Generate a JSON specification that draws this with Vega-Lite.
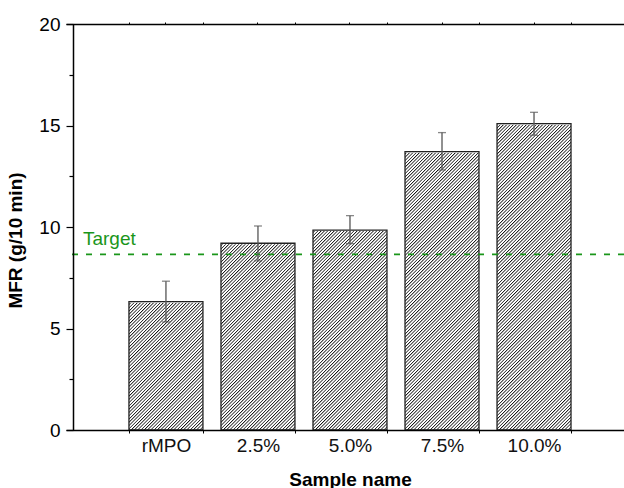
{
"$schema":"https://vega.github.io/schema/vega-lite/v6.json",
"width":558,"height":406,
"autosize":{"type":"none"},
"padding":{"left":66,"top":24,"right":0,"bottom":58},
"background":"white",
"config":{"view":{"stroke":null},"font":"Liberation Sans","axis":{"labelFont":"Liberation Sans","titleFont":"Liberation Sans","labelColor":"#000","titleColor":"#000","tickColor":"#000","domainColor":"#000","grid":false}},
"data":{"values":[
{"sample":"rMPO","mfr":6.32,"lo":5.32,"hi":7.33},
{"sample":"2.5%","mfr":9.20,"lo":8.33,"hi":10.05},
{"sample":"5.0%","mfr":9.85,"lo":9.18,"hi":10.56},
{"sample":"7.5%","mfr":13.71,"lo":12.81,"hi":14.65},
{"sample":"10.0%","mfr":15.09,"lo":14.52,"hi":15.65}
]},
"resolve":{"axis":{"x":"independent","y":"independent"}},
"layer":[
{"mark":{"type":"bar","stroke":null,"fill":{"gradient":"linear","x1":0,"y1":0,"x2":0.2572,"y2":1.164,"stops":[
{"offset":0,"color":"#111"},{"offset":0.0032,"color":"#fff"},{"offset":0.006,"color":"#fff"},
{"offset":0.008,"color":"#111"},{"offset":0.0112,"color":"#fff"},{"offset":0.014,"color":"#fff"},
{"offset":0.016,"color":"#111"},{"offset":0.0192,"color":"#fff"},{"offset":0.022,"color":"#fff"},
{"offset":0.024,"color":"#111"},{"offset":0.0272,"color":"#fff"},{"offset":0.03,"color":"#fff"},
{"offset":0.032,"color":"#111"},{"offset":0.0352,"color":"#fff"},{"offset":0.038,"color":"#fff"},
{"offset":0.04,"color":"#111"},{"offset":0.0432,"color":"#fff"},{"offset":0.046,"color":"#fff"},
{"offset":0.048,"color":"#111"},{"offset":0.0512,"color":"#fff"},{"offset":0.054,"color":"#fff"},
{"offset":0.056,"color":"#111"},{"offset":0.0592,"color":"#fff"},{"offset":0.062,"color":"#fff"},
{"offset":0.064,"color":"#111"},{"offset":0.0672,"color":"#fff"},{"offset":0.07,"color":"#fff"},
{"offset":0.072,"color":"#111"},{"offset":0.0752,"color":"#fff"},{"offset":0.078,"color":"#fff"},
{"offset":0.08,"color":"#111"},{"offset":0.0832,"color":"#fff"},{"offset":0.086,"color":"#fff"},
{"offset":0.088,"color":"#111"},{"offset":0.0912,"color":"#fff"},{"offset":0.094,"color":"#fff"},
{"offset":0.096,"color":"#111"},{"offset":0.0992,"color":"#fff"},{"offset":0.102,"color":"#fff"},
{"offset":0.104,"color":"#111"},{"offset":0.1072,"color":"#fff"},{"offset":0.11,"color":"#fff"},
{"offset":0.112,"color":"#111"},{"offset":0.1152,"color":"#fff"},{"offset":0.118,"color":"#fff"},
{"offset":0.12,"color":"#111"},{"offset":0.1232,"color":"#fff"},{"offset":0.126,"color":"#fff"},
{"offset":0.128,"color":"#111"},{"offset":0.1312,"color":"#fff"},{"offset":0.134,"color":"#fff"},
{"offset":0.136,"color":"#111"},{"offset":0.1392,"color":"#fff"},{"offset":0.142,"color":"#fff"},
{"offset":0.144,"color":"#111"},{"offset":0.1472,"color":"#fff"},{"offset":0.15,"color":"#fff"},
{"offset":0.152,"color":"#111"},{"offset":0.1552,"color":"#fff"},{"offset":0.158,"color":"#fff"},
{"offset":0.16,"color":"#111"},{"offset":0.1632,"color":"#fff"},{"offset":0.166,"color":"#fff"},
{"offset":0.168,"color":"#111"},{"offset":0.1712,"color":"#fff"},{"offset":0.174,"color":"#fff"},
{"offset":0.176,"color":"#111"},{"offset":0.1792,"color":"#fff"},{"offset":0.182,"color":"#fff"},
{"offset":0.184,"color":"#111"},{"offset":0.1872,"color":"#fff"},{"offset":0.19,"color":"#fff"},
{"offset":0.192,"color":"#111"},{"offset":0.1952,"color":"#fff"},{"offset":0.198,"color":"#fff"},
{"offset":0.2,"color":"#111"},{"offset":0.2032,"color":"#fff"},{"offset":0.206,"color":"#fff"},
{"offset":0.208,"color":"#111"},{"offset":0.2112,"color":"#fff"},{"offset":0.214,"color":"#fff"},
{"offset":0.216,"color":"#111"},{"offset":0.2192,"color":"#fff"},{"offset":0.222,"color":"#fff"},
{"offset":0.224,"color":"#111"},{"offset":0.2272,"color":"#fff"},{"offset":0.23,"color":"#fff"},
{"offset":0.232,"color":"#111"},{"offset":0.2352,"color":"#fff"},{"offset":0.238,"color":"#fff"},
{"offset":0.24,"color":"#111"},{"offset":0.2432,"color":"#fff"},{"offset":0.246,"color":"#fff"},
{"offset":0.248,"color":"#111"},{"offset":0.2512,"color":"#fff"},{"offset":0.254,"color":"#fff"},
{"offset":0.256,"color":"#111"},{"offset":0.2592,"color":"#fff"},{"offset":0.262,"color":"#fff"},
{"offset":0.264,"color":"#111"},{"offset":0.2672,"color":"#fff"},{"offset":0.27,"color":"#fff"},
{"offset":0.272,"color":"#111"},{"offset":0.2752,"color":"#fff"},{"offset":0.278,"color":"#fff"},
{"offset":0.28,"color":"#111"},{"offset":0.2832,"color":"#fff"},{"offset":0.286,"color":"#fff"},
{"offset":0.288,"color":"#111"},{"offset":0.2912,"color":"#fff"},{"offset":0.294,"color":"#fff"},
{"offset":0.296,"color":"#111"},{"offset":0.2992,"color":"#fff"},{"offset":0.302,"color":"#fff"},
{"offset":0.304,"color":"#111"},{"offset":0.3072,"color":"#fff"},{"offset":0.31,"color":"#fff"},
{"offset":0.312,"color":"#111"},{"offset":0.3152,"color":"#fff"},{"offset":0.318,"color":"#fff"},
{"offset":0.32,"color":"#111"},{"offset":0.3232,"color":"#fff"},{"offset":0.326,"color":"#fff"},
{"offset":0.328,"color":"#111"},{"offset":0.3312,"color":"#fff"},{"offset":0.334,"color":"#fff"},
{"offset":0.336,"color":"#111"},{"offset":0.3392,"color":"#fff"},{"offset":0.342,"color":"#fff"},
{"offset":0.344,"color":"#111"},{"offset":0.3472,"color":"#fff"},{"offset":0.35,"color":"#fff"},
{"offset":0.352,"color":"#111"},{"offset":0.3552,"color":"#fff"},{"offset":0.358,"color":"#fff"},
{"offset":0.36,"color":"#111"},{"offset":0.3632,"color":"#fff"},{"offset":0.366,"color":"#fff"},
{"offset":0.368,"color":"#111"},{"offset":0.3712,"color":"#fff"},{"offset":0.374,"color":"#fff"},
{"offset":0.376,"color":"#111"},{"offset":0.3792,"color":"#fff"},{"offset":0.382,"color":"#fff"},
{"offset":0.384,"color":"#111"},{"offset":0.3872,"color":"#fff"},{"offset":0.39,"color":"#fff"},
{"offset":0.392,"color":"#111"},{"offset":0.3952,"color":"#fff"},{"offset":0.398,"color":"#fff"},
{"offset":0.4,"color":"#111"},{"offset":0.4032,"color":"#fff"},{"offset":0.406,"color":"#fff"},
{"offset":0.408,"color":"#111"},{"offset":0.4112,"color":"#fff"},{"offset":0.414,"color":"#fff"},
{"offset":0.416,"color":"#111"},{"offset":0.4192,"color":"#fff"},{"offset":0.422,"color":"#fff"},
{"offset":0.424,"color":"#111"},{"offset":0.4272,"color":"#fff"},{"offset":0.43,"color":"#fff"},
{"offset":0.432,"color":"#111"},{"offset":0.4352,"color":"#fff"},{"offset":0.438,"color":"#fff"},
{"offset":0.44,"color":"#111"},{"offset":0.4432,"color":"#fff"},{"offset":0.446,"color":"#fff"},
{"offset":0.448,"color":"#111"},{"offset":0.4512,"color":"#fff"},{"offset":0.454,"color":"#fff"},
{"offset":0.456,"color":"#111"},{"offset":0.4592,"color":"#fff"},{"offset":0.462,"color":"#fff"},
{"offset":0.464,"color":"#111"},{"offset":0.4672,"color":"#fff"},{"offset":0.47,"color":"#fff"},
{"offset":0.472,"color":"#111"},{"offset":0.4752,"color":"#fff"},{"offset":0.478,"color":"#fff"},
{"offset":0.48,"color":"#111"},{"offset":0.4832,"color":"#fff"},{"offset":0.486,"color":"#fff"},
{"offset":0.488,"color":"#111"},{"offset":0.4912,"color":"#fff"},{"offset":0.494,"color":"#fff"},
{"offset":0.496,"color":"#111"},{"offset":0.4992,"color":"#fff"},{"offset":0.502,"color":"#fff"},
{"offset":0.504,"color":"#111"},{"offset":0.5072,"color":"#fff"},{"offset":0.51,"color":"#fff"},
{"offset":0.512,"color":"#111"},{"offset":0.5152,"color":"#fff"},{"offset":0.518,"color":"#fff"},
{"offset":0.52,"color":"#111"},{"offset":0.5232,"color":"#fff"},{"offset":0.526,"color":"#fff"},
{"offset":0.528,"color":"#111"},{"offset":0.5312,"color":"#fff"},{"offset":0.534,"color":"#fff"},
{"offset":0.536,"color":"#111"},{"offset":0.5392,"color":"#fff"},{"offset":0.542,"color":"#fff"},
{"offset":0.544,"color":"#111"},{"offset":0.5472,"color":"#fff"},{"offset":0.55,"color":"#fff"},
{"offset":0.552,"color":"#111"},{"offset":0.5552,"color":"#fff"},{"offset":0.558,"color":"#fff"},
{"offset":0.56,"color":"#111"},{"offset":0.5632,"color":"#fff"},{"offset":0.566,"color":"#fff"},
{"offset":0.568,"color":"#111"},{"offset":0.5712,"color":"#fff"},{"offset":0.574,"color":"#fff"},
{"offset":0.576,"color":"#111"},{"offset":0.5792,"color":"#fff"},{"offset":0.582,"color":"#fff"},
{"offset":0.584,"color":"#111"},{"offset":0.5872,"color":"#fff"},{"offset":0.59,"color":"#fff"},
{"offset":0.592,"color":"#111"},{"offset":0.5952,"color":"#fff"},{"offset":0.598,"color":"#fff"},
{"offset":0.6,"color":"#111"},{"offset":0.6032,"color":"#fff"},{"offset":0.606,"color":"#fff"},
{"offset":0.608,"color":"#111"},{"offset":0.6112,"color":"#fff"},{"offset":0.614,"color":"#fff"},
{"offset":0.616,"color":"#111"},{"offset":0.6192,"color":"#fff"},{"offset":0.622,"color":"#fff"},
{"offset":0.624,"color":"#111"},{"offset":0.6272,"color":"#fff"},{"offset":0.63,"color":"#fff"},
{"offset":0.632,"color":"#111"},{"offset":0.6352,"color":"#fff"},{"offset":0.638,"color":"#fff"},
{"offset":0.64,"color":"#111"},{"offset":0.6432,"color":"#fff"},{"offset":0.646,"color":"#fff"},
{"offset":0.648,"color":"#111"},{"offset":0.6512,"color":"#fff"},{"offset":0.654,"color":"#fff"},
{"offset":0.656,"color":"#111"},{"offset":0.6592,"color":"#fff"},{"offset":0.662,"color":"#fff"},
{"offset":0.664,"color":"#111"},{"offset":0.6672,"color":"#fff"},{"offset":0.67,"color":"#fff"},
{"offset":0.672,"color":"#111"},{"offset":0.6752,"color":"#fff"},{"offset":0.678,"color":"#fff"},
{"offset":0.68,"color":"#111"},{"offset":0.6832,"color":"#fff"},{"offset":0.686,"color":"#fff"},
{"offset":0.688,"color":"#111"},{"offset":0.6912,"color":"#fff"},{"offset":0.694,"color":"#fff"},
{"offset":0.696,"color":"#111"},{"offset":0.6992,"color":"#fff"},{"offset":0.702,"color":"#fff"},
{"offset":0.704,"color":"#111"},{"offset":0.7072,"color":"#fff"},{"offset":0.71,"color":"#fff"},
{"offset":0.712,"color":"#111"},{"offset":0.7152,"color":"#fff"},{"offset":0.718,"color":"#fff"},
{"offset":0.72,"color":"#111"},{"offset":0.7232,"color":"#fff"},{"offset":0.726,"color":"#fff"},
{"offset":0.728,"color":"#111"},{"offset":0.7312,"color":"#fff"},{"offset":0.734,"color":"#fff"},
{"offset":0.736,"color":"#111"},{"offset":0.7392,"color":"#fff"},{"offset":0.742,"color":"#fff"},
{"offset":0.744,"color":"#111"},{"offset":0.7472,"color":"#fff"},{"offset":0.75,"color":"#fff"},
{"offset":0.752,"color":"#111"},{"offset":0.7552,"color":"#fff"},{"offset":0.758,"color":"#fff"},
{"offset":0.76,"color":"#111"},{"offset":0.7632,"color":"#fff"},{"offset":0.766,"color":"#fff"},
{"offset":0.768,"color":"#111"},{"offset":0.7712,"color":"#fff"},{"offset":0.774,"color":"#fff"},
{"offset":0.776,"color":"#111"},{"offset":0.7792,"color":"#fff"},{"offset":0.782,"color":"#fff"},
{"offset":0.784,"color":"#111"},{"offset":0.7872,"color":"#fff"},{"offset":0.79,"color":"#fff"},
{"offset":0.792,"color":"#111"},{"offset":0.7952,"color":"#fff"},{"offset":0.798,"color":"#fff"},
{"offset":0.8,"color":"#111"},{"offset":0.8032,"color":"#fff"},{"offset":0.806,"color":"#fff"},
{"offset":0.808,"color":"#111"},{"offset":0.8112,"color":"#fff"},{"offset":0.814,"color":"#fff"},
{"offset":0.816,"color":"#111"},{"offset":0.8192,"color":"#fff"},{"offset":0.822,"color":"#fff"},
{"offset":0.824,"color":"#111"},{"offset":0.8272,"color":"#fff"},{"offset":0.83,"color":"#fff"},
{"offset":0.832,"color":"#111"},{"offset":0.8352,"color":"#fff"},{"offset":0.838,"color":"#fff"},
{"offset":0.84,"color":"#111"},{"offset":0.8432,"color":"#fff"},{"offset":0.846,"color":"#fff"},
{"offset":0.848,"color":"#111"},{"offset":0.8512,"color":"#fff"},{"offset":0.854,"color":"#fff"},
{"offset":0.856,"color":"#111"},{"offset":0.8592,"color":"#fff"},{"offset":0.862,"color":"#fff"},
{"offset":0.864,"color":"#111"},{"offset":0.8672,"color":"#fff"},{"offset":0.87,"color":"#fff"},
{"offset":0.872,"color":"#111"},{"offset":0.8752,"color":"#fff"},{"offset":0.878,"color":"#fff"},
{"offset":0.88,"color":"#111"},{"offset":0.8832,"color":"#fff"},{"offset":0.886,"color":"#fff"},
{"offset":0.888,"color":"#111"},{"offset":0.8912,"color":"#fff"},{"offset":0.894,"color":"#fff"},
{"offset":0.896,"color":"#111"},{"offset":0.8992,"color":"#fff"},{"offset":0.902,"color":"#fff"},
{"offset":0.904,"color":"#111"},{"offset":0.9072,"color":"#fff"},{"offset":0.91,"color":"#fff"},
{"offset":0.912,"color":"#111"},{"offset":0.9152,"color":"#fff"},{"offset":0.918,"color":"#fff"},
{"offset":0.92,"color":"#111"},{"offset":0.9232,"color":"#fff"},{"offset":0.926,"color":"#fff"},
{"offset":0.928,"color":"#111"},{"offset":0.9312,"color":"#fff"},{"offset":0.934,"color":"#fff"},
{"offset":0.936,"color":"#111"},{"offset":0.9392,"color":"#fff"},{"offset":0.942,"color":"#fff"},
{"offset":0.944,"color":"#111"},{"offset":0.9472,"color":"#fff"},{"offset":0.95,"color":"#fff"},
{"offset":0.952,"color":"#111"},{"offset":0.9552,"color":"#fff"},{"offset":0.958,"color":"#fff"},
{"offset":0.96,"color":"#111"},{"offset":0.9632,"color":"#fff"},{"offset":0.966,"color":"#fff"},
{"offset":0.968,"color":"#111"},{"offset":0.9712,"color":"#fff"},{"offset":0.974,"color":"#fff"},
{"offset":0.976,"color":"#111"},{"offset":0.9792,"color":"#fff"},{"offset":0.982,"color":"#fff"},
{"offset":0.984,"color":"#111"},{"offset":0.9872,"color":"#fff"},{"offset":0.99,"color":"#fff"},
{"offset":0.992,"color":"#111"},{"offset":0.9952,"color":"#fff"},{"offset":0.998,"color":"#fff"},
{"offset":1,"color":"#111"}
]}},
"encoding":{
"x":{"field":"sample","type":"nominal","sort":null,"scale":{"paddingInner":0.196,"paddingOuter":0.63,"align":0.543},
"axis":{"orient":"bottom","title":"Sample name","titleFontSize":19,"titleFontWeight":"bold","titleX":284,"titleY":55,"titleBaseline":"alphabetic","labelFontSize":19,"labelColor":"#111","labelAngle":0,"labelBaseline":"alphabetic","labelPadding":18.5,"tickBand":"extent","tickSize":3,"tickWidth":1,"domainWidth":1.5,"zindex":1}},
"y":{"datum":16.5,"type":"quantitative","scale":{"domain":[0,20],"nice":false,"zero":true},
"axis":{"orient":"left","offset":-7,"values":[0,5,10,15,20],"title":"MFR (g/10 min)","titleFontSize":19,"titleFontWeight":"bold","titleX":-48,"titleY":216,"labelFontSize":19,"labelPadding":6,"tickSize":7,"tickWidth":1.2,"domainWidth":1.5,"zindex":1}},
"y2":{"datum":0}
}},
{"mark":{"type":"bar","fill":"white","stroke":"white","strokeWidth":2},
"encoding":{
"x":{"field":"sample","type":"nominal","sort":null,"axis":{"orient":"top","title":null,"labels":false,"tickBand":"extent","tickSize":2,"domainWidth":1.5,"zindex":1}},
"y":{"field":"mfr","type":"quantitative","axis":{"orient":"left","offset":-7,"values":[2.5,7.5,12.5,17.5],"labels":false,"title":null,"domain":false,"tickSize":4,"tickWidth":1.2,"zindex":1}},
"y2":{"datum":16.6}
}},
{"mark":{"type":"bar","fill":null,"fillOpacity":0,"stroke":"#222","strokeWidth":1.3},
"encoding":{
"x":{"field":"sample","type":"nominal","sort":null,"axis":{"orient":"top","title":null,"labels":false,"domain":false,"tickSize":2,"zindex":1}},
"y":{"field":"mfr","type":"quantitative","axis":null},
"y2":{"datum":0}
}},
{"data":{"values":[{"label":"Target","mfr":8.65}]},
"layer":[
{"mark":{"type":"rule","color":"#1a961a","strokeWidth":1.6,"strokeDash":[6,8]},
"encoding":{"y":{"field":"mfr","type":"quantitative","axis":null}}},
{"mark":{"type":"text","color":"#1a961a","fontSize":19,"align":"left","baseline":"alphabetic","dx":-46,"dy":-9},
"encoding":{"text":{"field":"label"},"x":{"datum":"rMPO","type":"nominal","bandPosition":0,"axis":null},"y":{"field":"mfr","type":"quantitative","axis":null}}}
]},
{"mark":{"type":"rule","color":"#555","strokeWidth":1.3},
"encoding":{"x":{"field":"sample","type":"nominal","sort":null,"axis":null},"y":{"field":"lo","type":"quantitative","axis":null},"y2":{"field":"hi"}}},
{"mark":{"type":"tick","color":"#555","size":8,"thickness":1.3},
"encoding":{"x":{"field":"sample","type":"nominal","sort":null,"axis":null},"y":{"field":"hi","type":"quantitative","axis":null}}},
{"mark":{"type":"tick","color":"#555","size":8,"thickness":1.3},
"encoding":{"x":{"field":"sample","type":"nominal","sort":null,"axis":null},"y":{"field":"lo","type":"quantitative","axis":null}}}
]
}
